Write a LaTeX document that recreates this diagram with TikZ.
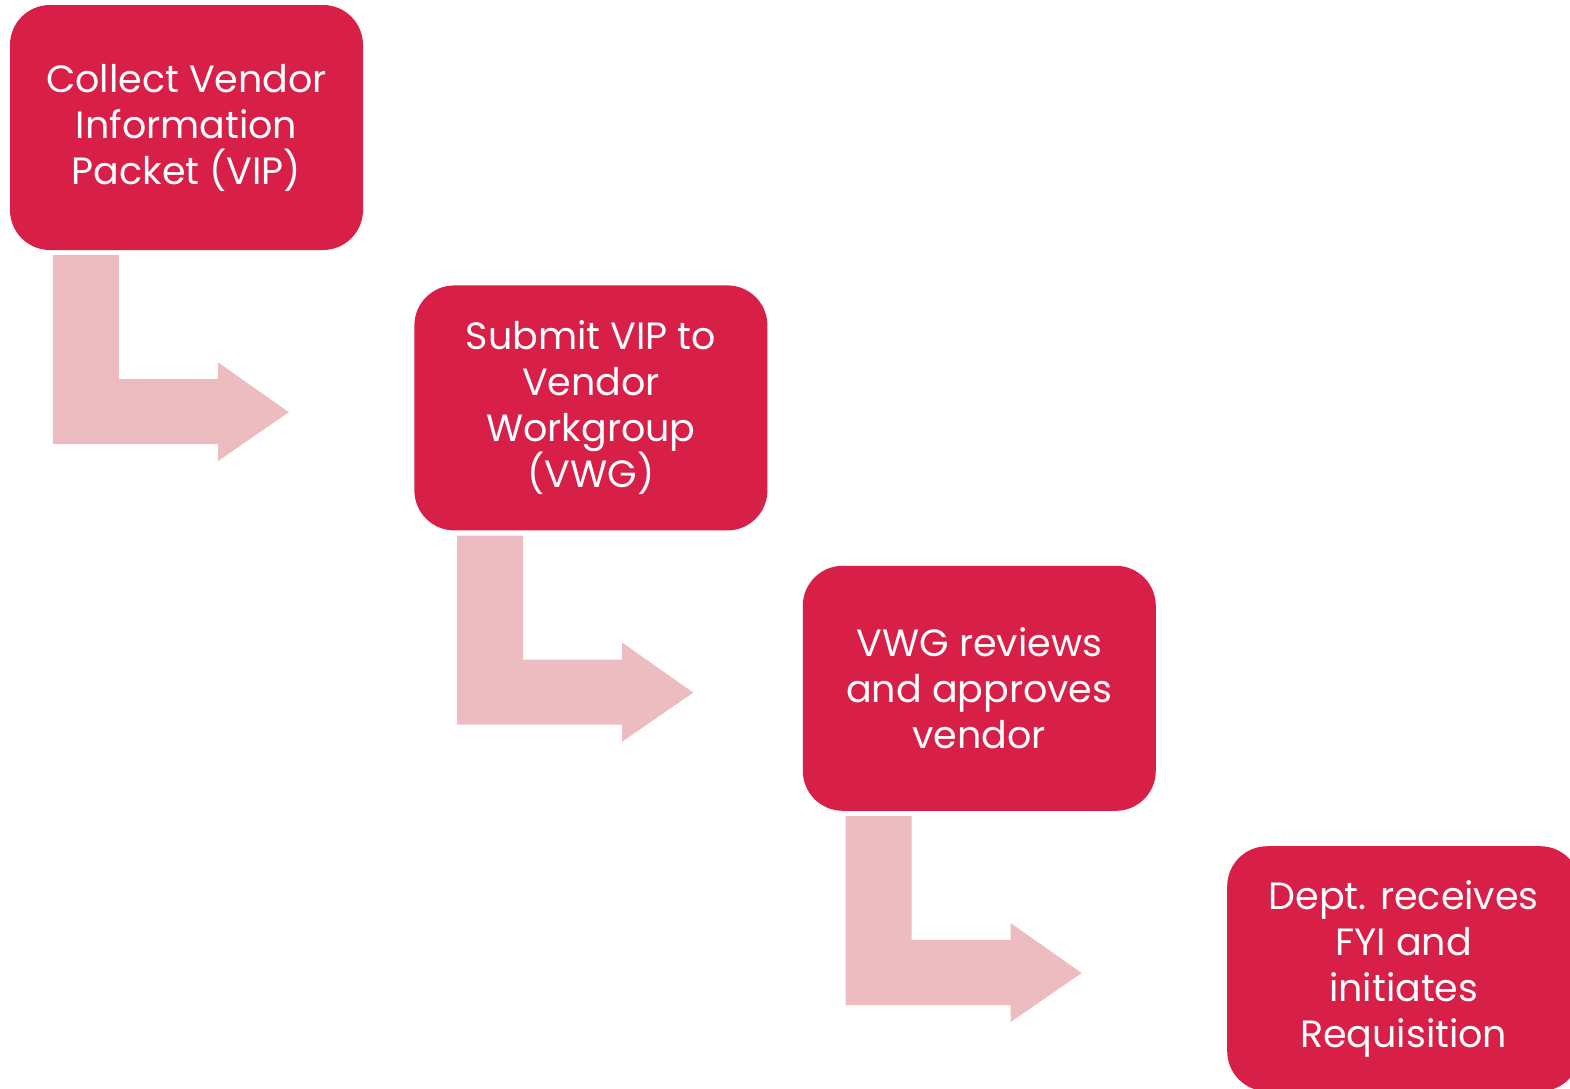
\documentclass[tikz,border=0pt]{standalone}
\usepackage{fontspec}
\setmainfont{Poppins}
\usetikzlibrary{positioning}
\definecolor{stepred}{HTML}{D81F48}
\definecolor{steppink}{HTML}{EDBCC0}
\tikzset{stepbox/.style={fill=stepred, rounded corners=40pt, inner sep=0pt,
    minimum width=353pt, minimum height=245pt, align=center, text=white,
    font=\fontsize{38}{46}\selectfont}}
\tikzset{bentarrow/.style={fill=steppink}}

\begin{document}
\begin{tikzpicture}[x=1pt,y=-1pt]
  \useasboundingbox (0,0) rectangle (1570,1088);
  %
  % the four steps
  \node[stepbox] (collect) at (186.5,127.5) {Collect Vendor\\Information\\Packet (VIP)};
  \node[stepbox, below right=35pt and 51pt of collect] (submit) {Submit VIP to\\Vendor\\Workgroup\\(VWG)};
  \node[stepbox, below right=35pt and 35pt of submit] (review) {VWG reviews\\and approves\\vendor};
  \node[stepbox, below right=35pt and 71pt of review] (dept) {Dept. receives\\FYI and\\initiates\\Requisition};
  %
  % bent arrows, hung under each box (local origin = south west corner)
  \foreach \b in {collect,submit,review}
  {
    \begin{scope}[shift={(\b.south west)}]
      \fill[bentarrow] (43,5) -- (109,5) -- (109,129) -- (208,129) -- (208,112)
        -- (279,162) -- (208,211) -- (208,194) -- (43,194) -- cycle;
    \end{scope}
  }
\end{tikzpicture}
\end{document}
